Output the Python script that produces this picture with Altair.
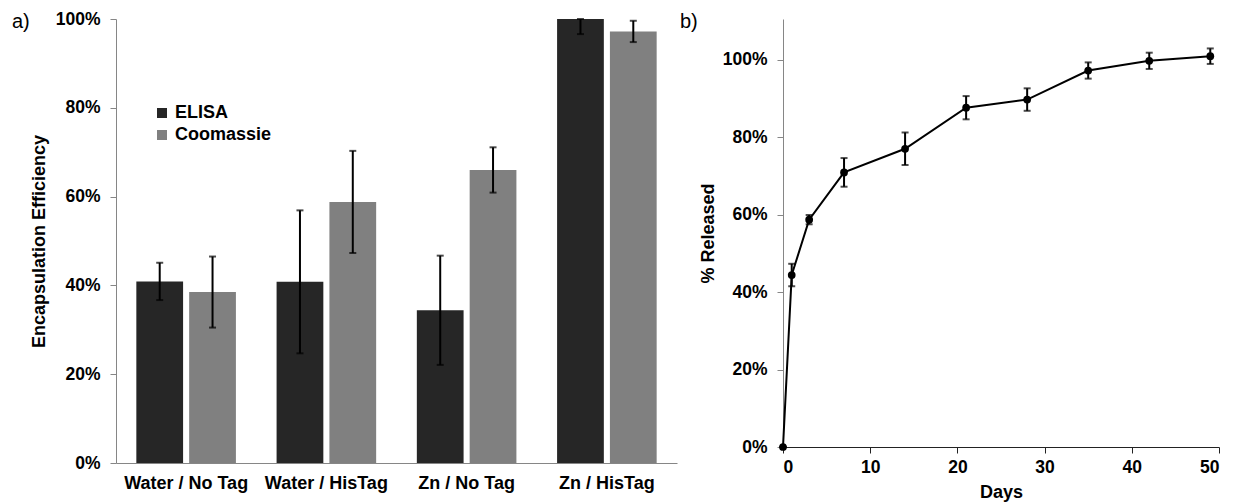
import altair as alt
import pandas as pd

FONT = "Liberation Sans"

# ---- panel a) data ----
categories = ["Water / No Tag", "Water / HisTag", "Zn / No Tag", "Zn / HisTag"]
methods = ["ELISA", "Coomassie"]
elisa = [0.409, 0.408, 0.344, 1.000]
elisa_err = [0.042, 0.161, 0.123, 0.034]
coomassie = [0.385, 0.588, 0.660, 0.972]
coomassie_err = [0.080, 0.115, 0.051, 0.024]

# ---- panel b) data ----
days = [0, 1, 3, 7, 14, 21, 28, 35, 42, 49]
released = [0.0, 0.444, 0.587, 0.709, 0.770, 0.876, 0.897, 0.972, 0.997, 1.009]
released_err = [0.0, 0.029, 0.012, 0.037, 0.042, 0.030, 0.029, 0.021, 0.021, 0.020]

rows = []
for i, c in enumerate(categories):
    for m, vals, errs in (("ELISA", elisa, elisa_err), ("Coomassie", coomassie, coomassie_err)):
        v, e = vals[i], errs[i]
        rows.append({"category": c, "method": m, "value": v,
                     "lo": v - e, "hi": min(v + e, 1.0)})
bar_df = pd.DataFrame(rows)

rel_df = pd.DataFrame({"day": days, "released": released})
rel_df["lo"] = [r - e for r, e in zip(released, released_err)]
rel_df["hi"] = [r + e for r, e in zip(released, released_err)]

# ---------------- panel a ----------------
y_axis_a = alt.Axis(
    title="Encapsulation Efficiency", values=[0, 0.2, 0.4, 0.6, 0.8, 1.0], format=".0%",
    labelFont=FONT, labelFontSize=17.5, labelFontWeight="bold", labelColor="black",
    titleFont=FONT, titleFontSize=18, titleFontWeight="bold", titleColor="black",
    domainColor="#868686", tickColor="#868686", tickSize=6, labelPadding=10,
    titlePadding=7, grid=False,
)
y_a = lambda f: alt.Y(f, scale=alt.Scale(domain=[0, 1], nice=False), axis=y_axis_a,
                      title="Encapsulation Efficiency")

base_a = alt.Chart(bar_df).encode(
    x=alt.X("category:N", sort=categories,
            scale=alt.Scale(paddingInner=0.29, paddingOuter=0.145),
            axis=alt.Axis(title=None, labelAngle=0, ticks=False, tickSize=0,
                          labelFont=FONT, labelFontSize=18, labelFontWeight="bold",
                          labelColor="black", domainColor="#868686", labelPadding=11)),
    xOffset=alt.XOffset("method:N", sort=methods,
                        scale=alt.Scale(domain=methods, paddingInner=0.115, paddingOuter=0)),
)

bars = base_a.mark_bar().encode(
    y=y_a("value:Q"),
    color=alt.Color("method:N", sort=methods,
                    scale=alt.Scale(domain=methods, range=["#262626", "#808080"]),
                    legend=alt.Legend(title=None, orient="none", legendX=37, legendY=85,
                                      symbolType="square", symbolSize=100,
                                      symbolStrokeWidth=0, labelFont=FONT,
                                      labelFontSize=18, labelFontWeight="bold",
                                      labelColor="black", rowPadding=4, padding=0,
                                      labelOffset=4)),
)
err_a = base_a.mark_rule(color="black", strokeWidth=2).encode(y=y_a("lo:Q"), y2="hi:Q")
cap_lo_a = base_a.mark_tick(color="black", thickness=2, size=7, orient="horizontal").encode(y=y_a("lo:Q"))
cap_hi_a = base_a.mark_tick(color="black", thickness=2, size=7, orient="horizontal").encode(y=y_a("hi:Q"))

label_a = alt.Chart(pd.DataFrame({"t": ["a)"]})).mark_text(
    align="left", baseline="middle", font=FONT, fontSize=20, color="black"
).encode(text="t:N", x=alt.value(-104), y=alt.value(3))

panel_a = alt.layer(bars, err_a, cap_lo_a, cap_hi_a, label_a).properties(width=561, height=444)

# ---------------- panel b ----------------
x_b = alt.X("day:Q", scale=alt.Scale(domain=[0, 50], nice=False),
            axis=alt.Axis(title="Days", values=[0, 10, 20, 30, 40, 50],
                          labelFont=FONT, labelFontSize=17.5, labelFontWeight="bold",
                          labelColor="black", titleFont=FONT, titleFontSize=18,
                          titleFontWeight="bold", titleColor="black",
                          domainColor="#222222", tickColor="#222222", tickSize=6,
                          labelPadding=5, titlePadding=8, grid=False))
y_axis_b = alt.Axis(
    title="% Released", values=[0, 0.2, 0.4, 0.6, 0.8, 1.0], format=".0%",
    labelFont=FONT, labelFontSize=17.5, labelFontWeight="bold", labelColor="black",
    titleFont=FONT, titleFontSize=18, titleFontWeight="bold", titleColor="black",
    domainColor="#868686", tickColor="#868686", tickSize=6, labelPadding=10,
    titlePadding=5, grid=False,
)
y_b = lambda f: alt.Y(f, scale=alt.Scale(domain=[0, 1.105], nice=False), axis=y_axis_b,
                      title="% Released")

base_b = alt.Chart(rel_df)
line_b = base_b.mark_line(color="black", strokeWidth=2).encode(x=x_b, y=y_b("released:Q"))
err_b = base_b.mark_rule(color="black", strokeWidth=2).encode(x=x_b, y=y_b("lo:Q"), y2="hi:Q")
cap_lo_b = base_b.mark_tick(color="black", thickness=2, size=7, orient="horizontal").encode(x=x_b, y=y_b("lo:Q"))
cap_hi_b = base_b.mark_tick(color="black", thickness=2, size=7, orient="horizontal").encode(x=x_b, y=y_b("hi:Q"))
pts_b = base_b.mark_circle(color="black", size=60, opacity=1).encode(x=x_b, y=y_b("released:Q"))

label_b = alt.Chart(pd.DataFrame({"t": ["b)"]})).mark_text(
    align="left", baseline="middle", font=FONT, fontSize=20, color="black"
).encode(text="t:N", x=alt.value(-103), y=alt.value(3))

panel_b = alt.layer(line_b, err_b, cap_lo_b, cap_hi_b, pts_b, label_b).properties(width=436, height=428)

chart = alt.hconcat(panel_a, panel_b, spacing=3).properties(
    padding={"left": 12, "top": 10, "right": 5, "bottom": 5},
    background="white",
).configure_view(stroke=None).configure_axis(grid=False)

chart.save("out.html", embed_options={"renderer": "svg", "actions": False})
